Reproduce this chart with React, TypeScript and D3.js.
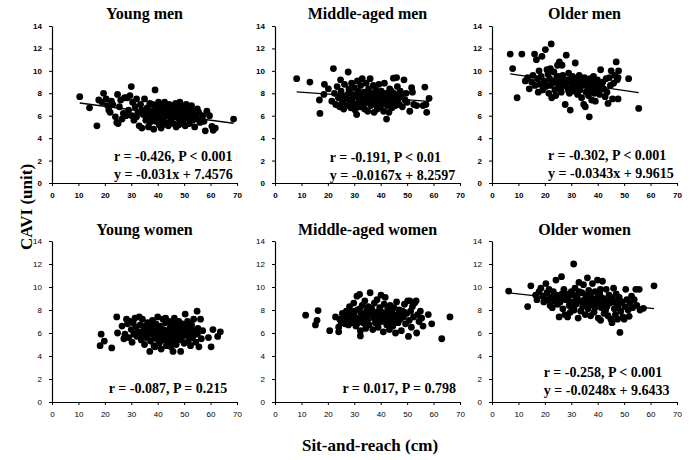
import { useEffect, useRef } from 'react';
import * as d3 from 'd3';

type Pt = [number, number];

// Sit-and-reach (cm), CAVI (unit) pairs
const youngMen: Pt[] = [
  [10.5, 7.7], [14.2, 6.7], [17, 5.1], [17.7, 7.4], [19.5, 8.0], [19, 7.2], [20.5, 7.5], [21, 6.9], [21.5, 6.5], [22, 6.3],
  [22.5, 7.3], [23, 7.0], [24, 5.9], [24.5, 5.4], [24.8, 7.9], [25, 5.3], [25.5, 6.8], [26, 7.4], [26.5, 5.7], [27, 6.2],
  [27.5, 7.6], [28, 6.0], [28.5, 7.6], [29, 6.5], [29.5, 7.8], [30, 8.6], [30.2, 6.0], [30.5, 7.2], [31, 5.6], [31.5, 6.8],
  [32, 7.5], [32.5, 6.3], [33, 5.1], [33.5, 7.0], [34, 4.9], [34.5, 6.1], [35, 7.5], [35.5, 5.6], [36, 6.7], [36.5, 5.0],
  [37, 7.1], [37.5, 5.9], [38, 6.4], [38.5, 4.8], [39, 8.3], [39.2, 5.5], [39.5, 6.9], [40, 6.1], [40.3, 7.2], [40.6, 5.2],
  [41, 6.5], [41.3, 4.9], [41.6, 7.0], [42, 5.8], [42.3, 6.3], [42.6, 7.2], [43, 5.4], [43.3, 6.7], [43.6, 6.0], [44, 5.1],
  [44.3, 7.0], [44.6, 6.4], [45, 5.7], [45.3, 6.9], [45.6, 6.2], [46, 5.3], [46.4, 6.6], [46.8, 7.1], [47.2, 5.9], [47.6, 6.3],
  [48, 5.2], [48.4, 7.2], [48.8, 6.0], [49.2, 6.8], [49.6, 5.5], [50, 6.4], [50.4, 5.1], [50.8, 7.0], [51.2, 5.8], [51.6, 6.5],
  [52, 5.3], [52.4, 6.1], [52.8, 6.9], [53.2, 5.6], [53.6, 6.4], [54, 5.0], [54.5, 6.0], [55, 5.7], [55.5, 6.3], [56, 5.4],
  [57, 6.0], [57.5, 5.5], [58, 4.65], [58.6, 6.4], [59.6, 6.0], [60.5, 5.05], [61.8, 4.9], [68.7, 5.7], [61, 4.7],
  [36, 6.3], [38, 7.0], [40, 6.6], [42, 6.9], [44, 6.1], [46, 5.9], [48, 6.6], [50, 5.8], [34, 6.5], [32, 5.9],
  [37, 5.4], [39, 6.0], [41, 5.6], [43, 6.4], [45, 5.5], [47, 5.0], [49, 6.1], [51, 6.2], [53, 6.0], [55, 6.6],
  [44, 6.8], [42, 5.2], [40, 5.9], [38, 5.7], [36, 5.8], [46, 6.9], [48, 5.7],
];

const middleMen: Pt[] = [
  [8.2, 9.3], [13.2, 9.0], [16.8, 7.4], [17, 6.2], [18.7, 8.8], [18.5, 7.9], [20.2, 8.4], [21.5, 7.3], [22.1, 10.2], [22.5, 8.0],
  [23, 7.0], [23.5, 8.6], [24, 7.6], [24.5, 6.8], [24.8, 9.2], [25, 8.2], [25.5, 7.2], [26, 6.6], [26.3, 8.8], [26.8, 7.8],
  [27.2, 6.9], [27.7, 9.9], [28, 8.4], [28.3, 7.4], [28.7, 6.7], [29, 8.9], [29.3, 7.9], [29.6, 7.1], [30, 8.5], [30.3, 6.5],
  [30.6, 7.7], [30.9, 6.1], [31.2, 9.1], [31.5, 8.2], [31.8, 7.3], [32.1, 6.8], [32.4, 8.7], [32.7, 7.6], [33, 9.3], [33.3, 7.0],
  [33.6, 8.1], [33.9, 6.6], [34.2, 7.8], [34.5, 8.9], [34.8, 7.2], [35.1, 6.4], [35.4, 8.4], [35.7, 7.5], [36, 9.3], [36.3, 6.9],
  [36.6, 8.0], [36.9, 7.3], [37.2, 8.7], [37.5, 6.3], [37.8, 7.7], [38.1, 8.3], [38.4, 7.0], [38.7, 6.6], [39, 7.9], [39.3, 8.8],
  [39.6, 7.4], [39.9, 6.8], [40.2, 8.2], [40.5, 7.1], [40.8, 7.6], [41.1, 6.4], [41.4, 8.9], [41.7, 7.3], [42, 8.0], [42.2, 5.7],
  [42.5, 6.9], [42.8, 7.7], [43.1, 6.3], [43.4, 8.4], [43.7, 7.1], [44, 7.6], [44.3, 6.7], [44.8, 9.35], [45, 8.0], [45.3, 7.3],
  [45.6, 6.9], [46, 9.4], [46.3, 8.6], [46.6, 7.5], [47, 7.0], [47.4, 8.2], [47.8, 7.7], [48.2, 6.8], [48.8, 9.2], [49.2, 7.4],
  [49.6, 8.0], [50, 7.2], [51, 6.4], [51.7, 8.5], [52, 8.1], [52.5, 7.0], [53.6, 6.9], [56, 6.9], [56.7, 8.55], [57.1, 7.0],
  [57.4, 6.3], [58.3, 7.55],
  [25, 7.9], [27, 7.5], [29, 7.4], [31, 7.9], [33, 7.5], [35, 7.9], [37, 7.4], [39, 7.2], [41, 7.8], [43, 7.5],
  [28, 8.1], [32, 8.0], [34, 7.2], [36, 7.6], [38, 7.8], [40, 7.9], [30, 7.0], [26, 7.5], [44, 8.2], [46, 7.8],
];

const olderMen: Pt[] = [
  [6.9, 11.5], [7.8, 10.2], [9.5, 7.6], [11.3, 11.5], [12.6, 9.1], [13.5, 9.4], [14.1, 8.4], [15, 9.0], [15.5, 9.6], [16.1, 11.5],
  [16.3, 8.7], [16.8, 11.0], [17.2, 9.3], [17.5, 8.1], [17.8, 10.0], [18.2, 8.8], [18.6, 9.5], [18.9, 11.3], [19.2, 8.3], [19.6, 9.1],
  [20.2, 11.9], [20.4, 8.6], [20.8, 10.1], [21.2, 9.7], [21.5, 8.0], [21.8, 9.3], [22.1, 10.2], [22.4, 12.4], [22.6, 7.6], [23, 8.9],
  [23.4, 9.9], [23.8, 8.3], [24.1, 7.8], [24.5, 9.4], [24.8, 10.5], [25.2, 8.6], [25.5, 10.8], [25.8, 9.0], [26.2, 8.1], [26.5, 10.5],
  [26.8, 9.6], [27.2, 8.7], [27.7, 7.0], [28.1, 11.4], [28.4, 9.2], [28.7, 8.4], [29, 9.8], [29.3, 8.0], [29.6, 6.5], [29.9, 9.1],
  [30.2, 8.6], [30.5, 9.5], [30.8, 8.2], [31.1, 9.0], [31.5, 10.7], [31.8, 8.5], [32.1, 9.3], [32.4, 7.9], [32.7, 8.8], [33, 9.6],
  [33.3, 8.3], [33.6, 9.1], [33.9, 7.6], [34.2, 8.7], [34.7, 7.0], [35, 9.4], [35.3, 6.8], [35.6, 8.1], [35.9, 9.0], [36.2, 8.5],
  [36.5, 7.8], [36.8, 5.9], [37.1, 9.3], [37.4, 8.2], [37.7, 7.4], [38, 8.9], [38.4, 9.5], [38.8, 8.0], [39.1, 7.3], [39.5, 8.6],
  [39.9, 9.2], [40.3, 8.3], [40.7, 7.9], [41.1, 10.1], [41.5, 8.8], [41.9, 9.0], [42.3, 8.4], [42.8, 7.7], [43.2, 9.3], [43.5, 8.1],
  [43.9, 7.1], [44.4, 9.4], [44.8, 8.7], [45.1, 10.0], [45.6, 7.5], [46, 8.9], [46.4, 9.6], [47, 10.8], [47.4, 9.2], [47.7, 7.5],
  [47.9, 10.0], [47.7, 9.4], [51.7, 9.3], [55.5, 6.65],
  [20, 9.0], [22, 8.7], [24, 9.1], [26, 8.4], [28, 8.9], [30, 9.3], [32, 8.6], [34, 9.2], [36, 8.8], [38, 8.5],
  [40, 8.7], [25, 9.5], [27, 9.1], [29, 8.2], [31, 8.7], [33, 8.4], [35, 8.9], [37, 8.6], [39, 9.0],
];

const youngWomen: Pt[] = [
  [18.2, 4.9], [18.6, 5.9], [19.8, 5.3], [22.6, 4.7], [24.5, 7.4], [24.8, 6.0], [26.5, 6.6], [27.2, 5.5], [27.6, 5.9], [28.2, 7.2],
  [28.6, 6.8], [29, 5.6], [29.5, 7.0], [30, 6.3], [30.3, 5.2], [30.7, 6.9], [31, 5.9], [31.4, 7.3], [31.8, 6.5], [32.2, 5.7],
  [32.6, 6.1], [33, 7.4], [33.4, 6.7], [33.8, 5.4], [34.2, 7.2], [34.6, 6.2], [35, 5.0], [35.4, 6.6], [35.8, 5.6], [36.2, 6.9],
  [36.6, 6.0], [37, 4.4], [37.3, 5.3], [37.6, 6.4], [38, 7.1], [38.3, 5.8], [38.6, 4.9], [39, 6.2], [39.3, 6.8], [39.6, 5.5],
  [40, 7.4], [40.3, 6.0], [40.6, 5.1], [41, 6.6], [41.3, 4.6], [41.6, 5.8], [42, 7.2], [42.3, 6.3], [42.6, 5.4], [43, 6.9],
  [43.3, 4.9], [43.6, 6.1], [44, 5.6], [44.3, 7.0], [44.6, 6.4], [45, 5.2], [45.3, 6.7], [45.8, 4.4], [46, 5.9], [46.3, 7.3],
  [46.6, 6.2], [47, 5.0], [47.3, 6.6], [47.6, 5.6], [48, 7.0], [48.3, 6.0], [48.7, 4.4], [49, 5.4], [49.3, 6.8], [49.6, 6.3],
  [50, 5.1], [50.4, 7.65], [50.6, 5.8], [51, 6.5], [51.3, 7.0], [51.6, 5.3], [52, 6.1], [52.4, 4.9], [52.8, 6.7], [53.2, 5.6],
  [53.6, 7.2], [54, 6.0], [54.4, 5.2], [54.9, 7.9], [55.2, 6.4], [55.6, 4.8], [56.2, 7.2], [56.5, 5.5], [57, 6.2], [59.2, 5.6],
  [60.2, 4.8], [60.9, 6.3], [62.7, 5.7], [63.7, 6.1],
  [36, 6.3], [38, 5.9], [40, 6.3], [42, 5.6], [44, 6.2], [46, 5.7], [48, 6.4], [50, 6.0], [52, 5.7], [37, 6.8],
  [39, 5.6], [41, 6.1], [43, 5.8], [45, 6.0], [47, 6.3], [49, 5.9], [35, 6.0], [34, 5.7], [53, 6.3], [55, 5.9],
  [41, 5.3], [44, 5.4], [47, 5.4], [39, 4.8], [45, 4.8], [43, 7.3], [46, 6.9],
];

const middleWomen: Pt[] = [
  [11.6, 7.55], [15.3, 6.7], [15.9, 7.1], [16.3, 7.95], [20.7, 6.2], [22.9, 7.4], [24.1, 6.5], [24.1, 6.1], [24.5, 7.2], [25, 6.9],
  [25.5, 7.7], [26, 7.5], [26.5, 6.8], [27, 7.9], [27.4, 7.3], [27.8, 6.7], [28.2, 8.3], [28.6, 7.1], [29, 7.8], [29.4, 6.9],
  [29.8, 8.6], [30.2, 7.4], [30.6, 6.6], [31, 9.2], [31.3, 8.0], [31.6, 7.2], [32, 9.35], [32.3, 5.75], [32.3, 6.2], [32.6, 7.7],
  [33, 8.4], [33.3, 6.9], [33.6, 7.5], [34, 8.8], [34.3, 6.4], [34.6, 7.9], [35, 7.1], [35.3, 8.3], [35.6, 6.7], [36, 9.5],
  [36.3, 7.6], [36.6, 8.1], [37, 6.3], [37.3, 7.3], [37.6, 8.6], [38, 6.9], [38.3, 7.8], [38.6, 8.9], [39, 6.5], [39.3, 7.4],
  [39.6, 8.2], [40.1, 9.3], [40.3, 7.0], [40.6, 7.7], [41, 6.1], [41.3, 8.5], [41.7, 9.1], [42, 7.2], [42.3, 6.7], [42.6, 8.0],
  [43, 7.5], [43.3, 6.3], [43.6, 8.4], [44, 7.0], [44.3, 7.8], [44.6, 6.6], [45, 8.2], [45.3, 7.3], [45.6, 6.0], [46, 8.7],
  [46.3, 7.6], [46.6, 6.9], [47, 8.0], [47.4, 7.2], [47.8, 6.2], [48.2, 7.9], [48.6, 7.4], [49, 8.5], [49.4, 6.8], [49.8, 7.7],
  [50.2, 8.8], [50.5, 5.7], [50.8, 7.1], [51, 8.8], [51.3, 7.9], [51.6, 6.5], [52, 8.3], [52.4, 7.4], [52.8, 8.6], [53.4, 8.8],
  [53.6, 6.0], [54, 7.6], [54.5, 7.0], [55, 7.9], [55.5, 7.3], [56, 6.6], [58, 7.6], [59.3, 6.8], [63.1, 5.5], [66.2, 7.4],
  [30, 7.9], [32, 8.1], [34, 7.3], [36, 7.9], [38, 7.3], [40, 7.9], [42, 7.6], [44, 8.0], [46, 7.1], [48, 7.5],
  [31, 6.8], [33, 7.3], [35, 7.6], [37, 7.8], [39, 7.0], [41, 7.4], [43, 7.9], [45, 7.5], [47, 7.4], [49, 7.8],
  [28, 7.5], [26, 7.2],
];

const olderWomen: Pt[] = [
  [6.3, 9.65], [13.5, 8.3], [14.7, 10.1], [16.5, 9.3], [17, 8.9], [17.8, 9.6], [18.5, 9.9], [19.2, 9.2], [19.6, 8.7], [20.4, 10.3],
  [20.8, 9.5], [21.2, 8.9], [21.6, 9.8], [22, 8.4], [22.4, 9.1], [22.8, 8.2], [23.2, 9.6], [23.6, 8.8], [24.2, 10.6], [24.5, 9.3],
  [24.8, 8.5], [25.1, 9.0], [25.4, 7.4], [25.8, 8.7], [26.3, 10.9], [26.5, 9.4], [26.8, 8.1], [27.2, 9.8], [27.6, 7.6], [28, 8.9],
  [28.6, 7.4], [28.9, 9.2], [29.2, 8.4], [29.6, 7.8], [30, 9.6], [30.3, 8.7], [30.9, 12.0], [31.1, 8.0], [31.4, 9.9], [31.8, 8.5],
  [32.2, 9.2], [32.6, 7.3], [32.9, 10.4], [33.2, 8.8], [33.6, 7.9], [34, 9.5], [34.3, 8.3], [34.6, 10.2], [35, 8.9], [35.3, 7.6],
  [35.6, 9.3], [36.1, 10.8], [36.3, 8.1], [36.6, 9.7], [37, 8.6], [37.3, 7.5], [37.6, 9.1], [38, 10.3], [38.3, 8.4], [38.6, 7.8],
  [39, 9.6], [39.3, 8.9], [39.9, 10.6], [40.2, 7.3], [40.5, 8.6], [40.8, 9.4], [41.1, 7.1], [41.4, 8.2], [41.8, 10.5], [42.1, 9.0],
  [42.4, 7.7], [42.8, 8.8], [43.2, 9.8], [43.5, 8.3], [43.9, 7.5], [44.3, 9.3], [44.6, 8.6], [45, 7.2], [45.4, 6.9], [45.7, 8.9],
  [46, 9.9], [46.3, 8.1], [46.7, 7.6], [47, 9.4], [47.5, 7.2], [47.8, 8.4], [48.1, 9.1], [48.4, 6.05], [48.7, 7.9], [49.1, 8.7],
  [49.5, 7.4], [50, 7.2], [50.3, 8.3], [50.6, 9.8], [51, 8.9], [51.5, 8.0], [51.9, 7.45], [52.3, 8.6], [52.8, 9.2], [53.2, 8.2],
  [53.8, 8.9], [54.4, 9.8], [54.8, 8.4], [55.7, 9.8], [56, 8.0], [57.3, 8.15], [61.3, 10.1],
  [26, 8.9], [28, 9.4], [30, 8.3], [32, 8.9], [34, 8.7], [36, 9.0], [38, 8.8], [40, 9.1], [42, 8.5], [44, 8.8],
  [46, 8.7], [48, 8.9], [29, 8.8], [31, 9.3], [33, 9.6], [35, 8.4], [37, 9.3], [39, 8.2], [41, 9.8], [43, 8.0],
  [45, 9.1], [47, 8.2],
];

const panelTitles = ['Young men', 'Middle-aged men', 'Older men', 'Young women', 'Middle-aged women', 'Older women'];
const panelData = [youngMen, middleMen, olderMen, youngWomen, middleWomen, olderWomen];
const statTexts = [
  ['r = -0.426, P < 0.001', 'y = -0.031x + 7.4576'],
  ['r = -0.191, P < 0.01', 'y = -0.0167x + 8.2597'],
  ['r = -0.302, P < 0.001', 'y = -0.0343x + 9.9615'],
  ['r = -0.087, P = 0.215'],
  ['r = 0.017, P = 0.798'],
  ['r = -0.258, P < 0.001', 'y = -0.0248x + 9.6433'],
];
// slope, intercept of the fitted line (null = not drawn)
const fits: ([number, number] | null)[] = [
  [-0.031, 7.4576], [-0.0167, 8.2597], [-0.0343, 9.9615], null, null, [-0.0248, 9.6433],
];
const xTicks = [0, 10, 20, 30, 40, 50, 60, 70];
const yTicks = [0, 2, 4, 6, 8, 10, 12, 14];

const W = 689;
const H = 460;
const colLeft = [52, 275, 492];
const panelW = 185;
const rowTop = [26, 241];
const rowH = [157, 161];
// where the stats block starts, in data units: x, baseline of first line
const statAnchor: [number, number][] = [
  [23.5, 2.0], [20.7, 1.9], [21.2, 2.05], [21.5, 0.78], [25.5, 0.78], [19.6, 2.17],
];

const serif = '"Liberation Serif", "Times New Roman", serif';
const sans = '"Liberation Sans", Arial, sans-serif';

const App = () => {
  const ref = useRef<SVGSVGElement | null>(null);

  useEffect(() => {
    if (!ref.current) return;
    const svg = d3.select(ref.current);
    svg.selectAll('*').remove();

    panelData.forEach((points, i) => {
      const row = Math.floor(i / 3);
      const col = i % 3;
      const left = colLeft[col];
      const top = rowTop[row];
      const h = rowH[row];

      const x = d3.scaleLinear().domain([0, 70]).range([0, panelW]);
      const y = d3.scaleLinear().domain([0, 14]).range([h, 0]);

      const g = svg.append('g').attr('transform', `translate(${left},${top})`);

      g.append('text')
        .attr('x', panelW / 2)
        .attr('y', row === 0 ? -7 : -6)
        .attr('text-anchor', 'middle')
        .attr('font-family', serif)
        .attr('font-weight', 'bold')
        .attr('font-size', 16)
        .text(panelTitles[i]);

      const tickWeight = row === 0 ? 'bold' : 'normal';

      const xAxis = g
        .append('g')
        .attr('transform', `translate(0,${h})`)
        .call(d3.axisBottom(x).tickValues(xTicks).tickSize(3).tickPadding(6).tickSizeOuter(0));
      const yAxis = g
        .append('g')
        .call(d3.axisLeft(y).tickValues(yTicks).tickSize(3).tickPadding(7).tickSizeOuter(0));

      [xAxis, yAxis].forEach((ax) => {
        ax.select('.domain').attr('stroke', '#000').attr('stroke-width', 1.2);
        ax.selectAll('.tick line').attr('stroke', '#000');
        ax.selectAll('.tick text')
          .attr('font-family', sans)
          .attr('font-size', 8)
          .attr('font-weight', tickWeight)
          .attr('fill', '#000');
      });

      g.append('g')
        .selectAll('circle')
        .data(points)
        .enter()
        .append('circle')
        .attr('cx', (d) => x(d[0]))
        .attr('cy', (d) => y(d[1]))
        .attr('r', 3.4)
        .attr('fill', '#000');

      const fit = fits[i];
      if (fit) {
        const [x0, x1] = d3.extent(points, (d) => d[0]) as [number, number];
        const line = d3
          .line<number>()
          .x((v) => x(v))
          .y((v) => y(fit[0] * v + fit[1]));
        g.append('path')
          .attr('d', line([x0, x1]))
          .attr('stroke', '#000')
          .attr('stroke-width', 1.3)
          .attr('fill', 'none');
      }

      const [ax, ay] = statAnchor[i];
      statTexts[i].forEach((s, k) => {
        g.append('text')
          .attr('x', x(ax))
          .attr('y', y(ay) + k * 18)
          .attr('font-family', serif)
          .attr('font-weight', 'bold')
          .attr('font-size', 14)
          .attr('fill', '#000')
          .text(s);
      });
    });

    svg
      .append('text')
      .attr('transform', `translate(32,207) rotate(-90)`)
      .attr('text-anchor', 'middle')
      .attr('font-family', serif)
      .attr('font-weight', 'bold')
      .attr('font-size', 17)
      .text('CAVI (unit)');

    svg
      .append('text')
      .attr('x', 370)
      .attr('y', 451)
      .attr('text-anchor', 'middle')
      .attr('font-family', serif)
      .attr('font-weight', 'bold')
      .attr('font-size', 17)
      .text('Sit-and-reach (cm)');
  }, []);

  return (
    <div style={{ position: 'absolute', left: 0, top: 0, background: '#fff' }}>
      <svg ref={ref} width={W} height={H} role="img" aria-label="CAVI vs sit-and-reach scatter plots" />
    </div>
  );
};

export default App;
